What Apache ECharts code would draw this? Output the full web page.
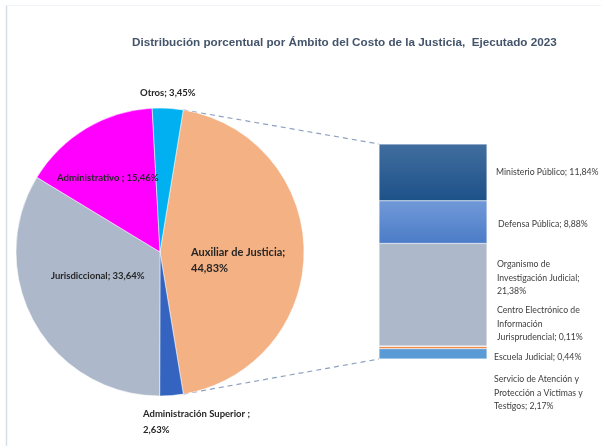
<!DOCTYPE html>
<html>
<head>
<meta charset="utf-8">
<script src="https://cdn.jsdelivr.net/npm/echarts@6/dist/echarts.min.js"></script>
<style>
  html, body { margin: 0; padding: 0; background: #ffffff; }
  #chart { width: 601px; height: 446px; }
</style>
</head>
<body>
<div id="chart"></div>
<script>
// datos del gráfico
const pieNames = ['Auxiliar de Justicia', 'Administración Superior', 'Jurisdiccional', 'Administrativo', 'Otros'];
const pieValues = [44.83, 2.63, 33.64, 15.46, 3.45];
const barNames = ['Ministerio Público', 'Defensa Pública', 'Organismo de Investigación Judicial',
  'Centro Electrónico de Información Jurisprudencial', 'Escuela Judicial',
  'Servicio de Atención y Protección a Víctimas y Testigos'];
const barValues = [11.84, 8.88, 21.38, 0.11, 0.44, 2.17];
const barLabels = ['Ministerio Público; 11,84%', 'Defensa Pública; 8,88%',
  'Organismo de\nInvestigación Judicial;\n21,38%', 'Centro Electrónico de\nInformación\nJurisprudencial; 0,11%',
  'Escuela Judicial; 0,44%', 'Servicio de Atención y\nProtección a Víctimas y\nTestigos; 2,17%'];
const pieLabels = ['Auxiliar de Justicia;\n44,83%', 'Administración Superior ;\n2,63%',
  'Jurisdiccional; 33,64%', 'Administrativo ; 15,46%', 'Otros; 3,45%'];

// estilos
const pieColors = ['#F4B183', '#3464C0', '#ADB9CA', '#FF00FF', '#00B0F0'];
const barColors = [
  new echarts.graphic.LinearGradient(0, 0, 0, 1, [{ offset: 0, color: '#416d9f' }, { offset: 1, color: '#1d5289' }]),
  new echarts.graphic.LinearGradient(0, 0, 0, 1, [{ offset: 0, color: '#7199d9' }, { offset: 1, color: '#4b7cc6' }]),
  '#ADB9CA', '#A5A5A5', '#ED7D31', '#5B9BD5'
];
const pieLabelPos = [[191, 260], [143, 422], [51, 276], [57, 178], [140, 93]];
const pieLabelSize = [11, 9.5, 9.5, 9.5, 9.5];
const barLabelPos = [[496, 172], [498, 224], [497, 278], [497, 324], [494, 357], [494, 393]];

const cx = 160, cy = 252, r = 144;
const startAngle = 80.7;
const gridLeft = 379, gridTop = 144, gridW = 108, gridH = 215;

const chart = echarts.init(document.getElementById('chart'), null, { renderer: 'canvas' });

const pieTotal = pieValues.reduce((a, b) => a + b, 0);
const a0 = startAngle * Math.PI / 180;
const a1 = (startAngle - 360 * pieValues[0] / pieTotal) * Math.PI / 180;
const p0 = [cx + r * Math.cos(a0), cy - r * Math.sin(a0)];
const p1 = [cx + r * Math.cos(a1), cy - r * Math.sin(a1)];

// la pila se dibuja de abajo hacia arriba
const order = barValues.map((v, i) => i).reverse();
const barSum = barValues.reduce((a, b) => a + b, 0);

const option = {
  backgroundColor: '#ffffff',
  animation: false,
  title: {
    text: 'Distribución porcentual por Ámbito del Costo de la Justicia,  Ejecutado 2023',
    left: 127,
    top: 32,
    textStyle: { fontFamily: 'Liberation Sans', fontSize: 11.7, fontWeight: 'bold', color: '#44546A' }
  },
  grid: { left: gridLeft, top: gridTop, width: gridW, height: gridH },
  xAxis: { type: 'category', data: ['Auxiliar'], show: false },
  yAxis: { type: 'value', min: 0, max: barSum, show: false },
  graphic: [
    { type: 'line', shape: { x1: 6.5, y1: 5.5, x2: 6.5, y2: 446 }, style: { stroke: '#D5DDE8', lineWidth: 1.5 } },
    { type: 'line', shape: { x1: 6.5, y1: 5.5, x2: 601, y2: 5.5 }, style: { stroke: '#F0F3F7', lineWidth: 1 } },
    { type: 'line', shape: { x1: p0[0], y1: p0[1], x2: gridLeft, y2: gridTop },
      style: { stroke: '#8EA2C0', lineWidth: 1.2, lineDash: [5, 4] } },
    { type: 'line', shape: { x1: p1[0], y1: p1[1], x2: gridLeft, y2: gridTop + gridH },
      style: { stroke: '#8EA2C0', lineWidth: 1.2, lineDash: [5, 4] } }
  ],
  series: [
    {
      type: 'pie',
      center: [cx, cy],
      radius: r,
      startAngle: startAngle,
      clockwise: true,
      data: pieNames.map((n, i) => ({
        name: n,
        value: pieValues[i],
        itemStyle: { color: pieColors[i] },
        label: { fontSize: pieLabelSize[i] }
      })),
      itemStyle: { borderColor: '#ffffff', borderWidth: 0.5 },
      label: {
        show: true,
        position: 'inside',
        formatter: p => pieLabels[p.dataIndex],
        fontFamily: 'Lato',
        fontWeight: 'bold',
        color: '#262626',
        lineHeight: 16
      },
      labelLine: { show: false },
      labelLayout: p => ({
        x: pieLabelPos[p.dataIndex][0],
        y: pieLabelPos[p.dataIndex][1],
        align: 'left',
        verticalAlign: 'middle'
      }),
      emphasis: { disabled: true }
    }
  ].concat(order.map(i => ({
    type: 'bar',
    name: barNames[i],
    stack: 'aux',
    barWidth: '100%',
    data: [barValues[i]],
    itemStyle: { color: barColors[i], borderColor: 'rgba(255,255,255,0.6)', borderWidth: 0.5 },
    label: {
      show: true,
      position: 'right',
      formatter: () => barLabels[i],
      fontFamily: 'Lato',
      fontSize: 8.7,
      lineHeight: 13.5,
      color: '#404040'
    },
    labelLayout: { x: barLabelPos[i][0], y: barLabelPos[i][1], align: 'left', verticalAlign: 'middle' },
    emphasis: { disabled: true }
  })))
};

chart.setOption(option);
</script>
</body>
</html>
